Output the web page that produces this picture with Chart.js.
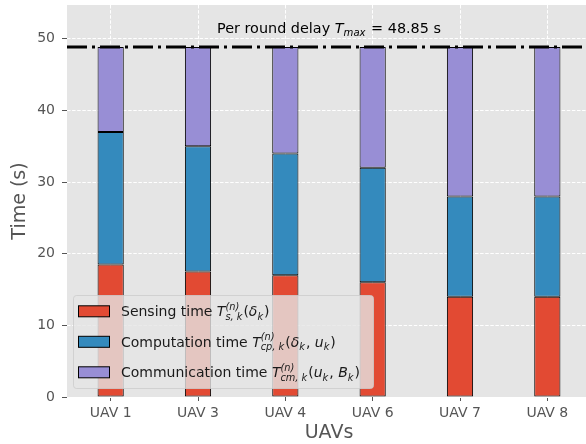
<!DOCTYPE html>
<html>
<head>
<meta charset="utf-8">
<script src="https://cdn.jsdelivr.net/npm/chart.js@4.4.0/dist/chart.umd.min.js"></script>
<style>
  html, body { margin: 0; padding: 0; background: #fff; overflow: hidden; }
  canvas { display: block; }
</style>
</head>
<body>
<canvas id="grafica" width="591" height="444"></canvas>
<script>
// datos
const uavs = ['UAV 1', 'UAV 3', 'UAV 4', 'UAV 6', 'UAV 7', 'UAV 8'];
const sensado = [18.5, 17.5, 17, 16, 14, 14];
const computo = [18.5, 17.5, 17, 16, 14, 14];
const comunicacion = [11.85, 13.85, 14.85, 16.85, 20.85, 20.85];
const tmax = 48.85;
const yTicks = [0, 10, 20, 30, 40, 50];

const FONT = '"DejaVu Sans", sans-serif';
const rojo = '#E24A33', azul = '#348ABD', morado = '#988ED5';

// dibuja texto con partes en cursiva, superindices y subindices
function drawMath(ctx, x, y, parts, size) {
  ctx.textBaseline = 'alphabetic';
  ctx.textAlign = 'left';
  for (const p of parts) {
    if (p.sup !== undefined || p.sub !== undefined) {
      const s = size * 0.7;
      let w = 0;
      ctx.font = 'italic ' + s + 'px ' + FONT;
      if (p.sup) { ctx.fillText(p.sup, x, y - size * 0.45); w = ctx.measureText(p.sup).width; }
      if (p.sub) { ctx.fillText(p.sub, x, y + size * 0.24); w = Math.max(w, ctx.measureText(p.sub).width); }
      x += w + 1;
    } else {
      ctx.font = (p.i ? 'italic ' : '') + size + 'px ' + FONT;
      ctx.fillText(p.t, x, y);
      x += ctx.measureText(p.t).width;
    }
  }
  return x;
}
function mathWidth(ctx, parts, size) {
  let w = 0;
  for (const p of parts) {
    if (p.sup !== undefined || p.sub !== undefined) {
      ctx.font = 'italic ' + size * 0.7 + 'px ' + FONT;
      w += Math.max(p.sup ? ctx.measureText(p.sup).width : 0, p.sub ? ctx.measureText(p.sub).width : 0) + 1;
    } else {
      ctx.font = (p.i ? 'italic ' : '') + size + 'px ' + FONT;
      w += ctx.measureText(p.t).width;
    }
  }
  return w;
}

const etiquetas = [
  { color: rojo, parts: [{t: 'Sensing time '}, {t: 'T', i: true}, {sup: '(n)', sub: 's, k'}, {t: '('}, {t: 'δ', i: true}, {sub: 'k'}, {t: ')'}] },
  { color: azul, parts: [{t: 'Computation time '}, {t: 'T', i: true}, {sup: '(n)', sub: 'cp, k'}, {t: '('}, {t: 'δ', i: true}, {sub: 'k'}, {t: ', '}, {t: 'u', i: true}, {sub: 'k'}, {t: ')'}] },
  { color: morado, parts: [{t: 'Communication time '}, {t: 'T', i: true}, {sup: '(n)', sub: 'cm, k'}, {t: '('}, {t: 'u', i: true}, {sub: 'k'}, {t: ', '}, {t: 'B', i: true}, {sub: 'k'}, {t: ')'}] }
];

const extras = {
  id: 'extras',
  beforeDraw(chart) {
    const {ctx, chartArea: a} = chart;
    ctx.save();
    ctx.fillStyle = '#E5E5E5';
    ctx.fillRect(a.left, a.top, a.right - a.left, a.bottom - a.top);
    ctx.restore();
  },
  afterDatasetsDraw(chart) {
    const {ctx, chartArea: a, scales} = chart;
    ctx.save();
    // linea de retardo maximo
    const y = scales.y.getPixelForValue(tmax);
    ctx.strokeStyle = '#000';
    ctx.lineWidth = 2.8;
    ctx.setLineDash([20, 5, 3, 5]);
    ctx.beginPath();
    ctx.moveTo(a.left, y);
    ctx.lineTo(a.right, y);
    ctx.stroke();
    ctx.setLineDash([]);

    // texto de la anotacion
    ctx.fillStyle = '#000';
    const ann = [{t: 'Per round delay '}, {t: 'T', i: true}, {sub: 'max'}, {t: ' = 48.85 s'}];
    const wa = mathWidth(ctx, ann, 14.4);
    drawMath(ctx, (a.left + a.right) / 2 - wa / 2, 32.5, ann, 14.4);

    // leyenda
    const lx = 73, ly = 295, lw = 300, lh = 93;
    ctx.beginPath();
    ctx.roundRect(lx + 0.5, ly + 0.5, lw, lh, 3);
    ctx.fillStyle = 'rgba(229,229,229,0.8)';
    ctx.fill();
    ctx.strokeStyle = 'rgba(204,204,204,0.8)';
    ctx.lineWidth = 1;
    ctx.stroke();
    etiquetas.forEach((e, i) => {
      const cy = 311.3 + i * 30.5;
      ctx.fillStyle = e.color;
      ctx.fillRect(78.5, cy - 5.5, 31, 11);
      ctx.strokeStyle = '#000';
      ctx.strokeRect(78.5, cy - 5.5, 31, 11);
      ctx.fillStyle = '#1a1a1a';
      drawMath(ctx, 121, cy + 4.9, e.parts, 14);
    });
    ctx.restore();
  }
};

const ctx1 = document.getElementById('grafica');
const barra = (label, data, color) => ({
  label, data, backgroundColor: color, borderColor: '#000', borderWidth: 1,
  borderSkipped: false, barPercentage: 0.3, categoryPercentage: 1
});

new Chart(ctx1, {
  type: 'bar',
  data: {
    labels: uavs,
    datasets: [
      barra('Sensing time', sensado, rojo),
      barra('Computation time', computo, azul),
      barra('Communication time', comunicacion, morado)
    ]
  },
  options: {
    responsive: false,
    animation: false,
    layout: { padding: { top: 5, right: 0, left: 0, bottom: 0 } },
    plugins: { legend: { display: false }, tooltip: { enabled: false } },
    scales: {
      x: {
        stacked: true,
        grid: { offset: false, color: '#fff', tickColor: '#555', tickLength: 4, tickBorderDash: [] },
        border: { display: false, dash: [3.5, 1.6] },
        ticks: { color: '#555', font: { family: FONT, size: 14 }, padding: 4 },
        title: { display: true, text: 'UAVs', color: '#555', font: { family: FONT, size: 19 }, padding: { top: 0, bottom: 0 } },
        afterFit: s => { s.height = 47; s.paddingLeft = 0; s.paddingRight = 0; }
      },
      y: {
        stacked: true,
        min: 0,
        max: tmax * 1.12,
        grid: { color: '#fff', tickColor: '#555', tickLength: 5, tickBorderDash: [] },
        border: { display: false, dash: [3.5, 1.6] },
        ticks: { color: '#555', font: { family: FONT, size: 14 }, padding: 7 },
        afterBuildTicks: s => { s.ticks = yTicks.map(v => ({ value: v })); },
        title: { display: true, text: 'Time (s)', color: '#555', font: { family: FONT, size: 19 }, padding: { top: 9, bottom: 0 } },
        afterFit: s => { s.width = 67; s.paddingTop = 0; s.paddingBottom = 0; }
      }
    }
  },
  plugins: [extras]
});
</script>
</body>
</html>
